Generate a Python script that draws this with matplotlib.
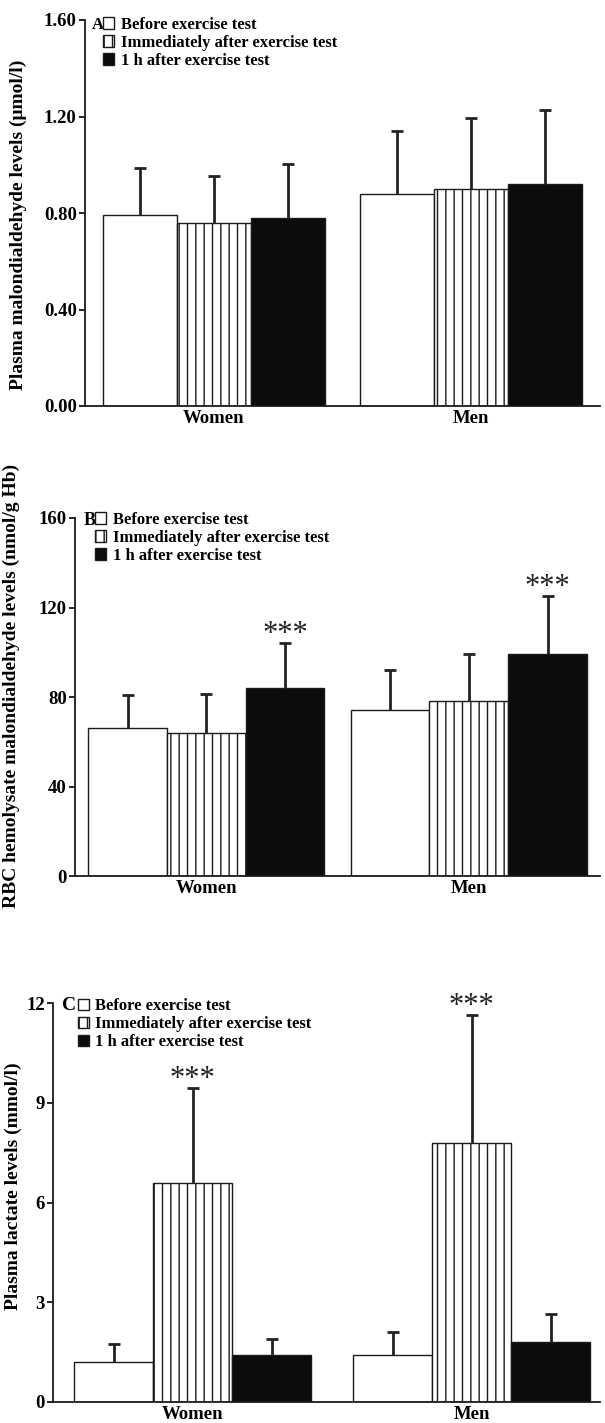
import matplotlib
matplotlib.use("Agg")
import matplotlib.pyplot as plt
from matplotlib.patches import Patch
import numpy as np

plt.rcParams['font.family'] = ['Liberation Serif', 'DejaVu Serif']
plt.rcParams['font.weight'] = 'bold'
plt.rcParams['hatch.linewidth'] = 1.0

groups = ["Women", "Men"]
series = ["Before exercise test", "Immediately after exercise test", "1 h after exercise test"]

# Panel A: plasma malondialdehyde (umol/l)
a_mean = {"Women": [0.79, 0.76, 0.78], "Men": [0.88, 0.90, 0.92]}
a_top = {"Women": [0.985, 0.955, 1.005], "Men": [1.14, 1.195, 1.225]}
a_ticks = [0.0, 0.4, 0.8, 1.2, 1.6]
a_ticklabels = ["0.00", "0.40", "0.80", "1.20", "1.60"]

# Panel B: RBC hemolysate malondialdehyde (nmol/g Hb)
b_mean = {"Women": [66, 64, 84], "Men": [74, 78, 99]}
b_top = {"Women": [81, 81.5, 104], "Men": [92, 99, 125]}
b_ticks = [0, 40, 80, 120, 160]
b_ticklabels = ["0", "40", "80", "120", "160"]
b_sig = {"Women": [False, False, True], "Men": [False, False, True]}

# Panel C: plasma lactate (mmol/l)
c_mean = {"Women": [1.2, 6.6, 1.4], "Men": [1.4, 7.8, 1.8]}
c_top = {"Women": [1.75, 9.45, 1.88], "Men": [2.1, 11.65, 2.65]}
c_ticks = [0, 3, 6, 9, 12]
c_ticklabels = ["0", "3", "6", "9", "12"]
c_sig = {"Women": [False, True, False], "Men": [False, True, False]}

W, H = 605, 1423
fig = plt.figure(figsize=(W / 100, H / 100), dpi=100)

def ax_at(left, right, top, bottom):
    return fig.add_axes([left / W, 1 - bottom / H, (right - left) / W, (bottom - top) / H])

facecolors = ["white", "white", "#0c0c0c"]
hatches = [None, "||", None]

def panel(ax, means, tops, ticks, ticklabels, ylabel, width, xlim, sig=None,
          ylabel_x=-0.13, star_off=0.0, ylabel_y=0.5):
    x = np.arange(len(groups))
    for i in range(3):
        vals = [means[g][i] for g in groups]
        errs = [tops[g][i] - means[g][i] for g in groups]
        pos = x + (i - 1) * width
        ax.bar(pos, vals, width, color=facecolors[i], edgecolor="#1a1a1a",
               hatch=hatches[i], linewidth=1.0, zorder=2)
        eb = ax.errorbar(pos, vals, yerr=[np.zeros(len(vals)), errs], fmt="none",
                         ecolor="#222222", elinewidth=2.0, capsize=4, capthick=2.0, zorder=3)
        for cl in eb[1]:
            if np.allclose(cl.get_ydata(), vals):
                cl.set_visible(False)
        if sig is not None:
            for j, g in enumerate(groups):
                if sig[g][i]:
                    ax.text(pos[j], tops[g][i] + star_off, "***", ha="center", va="bottom",
                            fontsize=22, fontweight="normal", color="#222222")
    ax.set_xlim(*xlim)
    ax.set_ylim(ticks[0], ticks[-1])
    ax.set_yticks(ticks)
    ax.set_yticklabels(ticklabels, fontsize=13.5, fontweight="bold")
    ax.set_xticks(x)
    ax.set_xticklabels(groups, fontsize=13.5, fontweight="bold")
    ax.tick_params(axis="x", length=0, pad=3)
    ax.tick_params(axis="y", length=4, width=1.2, direction="out", pad=2)
    for s in ["top", "right"]:
        ax.spines[s].set_visible(False)
    for s in ["left", "bottom"]:
        ax.spines[s].set_linewidth(1.3)
        ax.spines[s].set_color("#1a1a1a")
    ax.set_ylabel(ylabel, fontsize=14, fontweight="bold")
    ax.yaxis.set_label_coords(ylabel_x, ylabel_y)
    handles = [Patch(facecolor=facecolors[i], edgecolor="#1a1a1a", hatch=hatches[i],
                     linewidth=1.0) for i in range(3)]
    return handles

leg_kw = dict(loc="upper left", frameon=False, handlelength=0.66, handleheight=0.66,
              handletextpad=0.4, labelspacing=0.12, borderpad=0.0, borderaxespad=0.0,
              prop={"family": "Liberation Serif", "weight": "bold", "size": 12})

# Panel A
axA = ax_at(85, 600, 20, 406)
hA = panel(axA, a_mean, a_top, a_ticks, a_ticklabels,
           "Plasma malondialdehyde levels (\u03bcmol/l)", 0.288, (-0.5, 1.5),
           ylabel_x=-0.112, ylabel_y=0.47)
axA.legend(hA, series, bbox_to_anchor=(0.035, 1.008), **leg_kw)
axA.text(0.014, 0.987, "A", transform=axA.transAxes, ha="left", va="center",
         fontsize=12, fontweight="bold")

# Panel B
axB = ax_at(75, 600, 518, 876)
hB = panel(axB, b_mean, b_top, b_ticks, b_ticklabels,
           "RBC hemolysate malondialdehyde levels (nmol/g Hb)", 0.30, (-0.5, 1.5),
           sig=b_sig, ylabel_x=-0.105, star_off=-2.4, ylabel_y=0.53)
axB.legend(hB, series, bbox_to_anchor=(0.038, 1.017), **leg_kw)
axB.text(0.016, 0.993, "B", transform=axB.transAxes, ha="left", va="center",
         fontsize=13, fontweight="bold")

# Panel C
axC = ax_at(53, 600, 1003, 1402)
hC = panel(axC, c_mean, c_top, c_ticks, c_ticklabels,
           "Plasma lactate levels (mmol/l)", 0.283, (-0.5, 1.46),
           sig=c_sig, ylabel_x=-0.057, star_off=-0.2, ylabel_y=0.54)
axC.legend(hC, series, bbox_to_anchor=(0.045, 1.012), **leg_kw)
axC.text(0.016, 0.993, "C", transform=axC.transAxes, ha="left", va="center",
         fontsize=14, fontweight="bold")

fig.savefig("out.png", dpi=100)
